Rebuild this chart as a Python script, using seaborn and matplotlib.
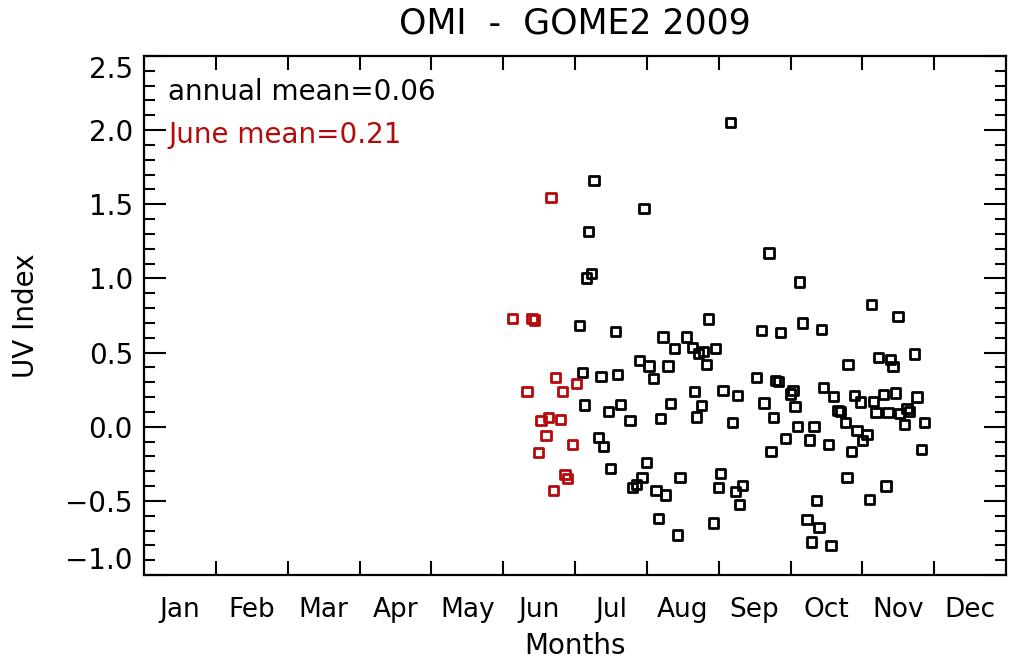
import numpy as np
import pandas as pd
import matplotlib
matplotlib.use("Agg")
import matplotlib.pyplot as plt
import seaborn as sns

# ---- data (x in fractional months from Jan 1, y = UV index difference) ----
months = ["Jan", "Feb", "Mar", "Apr", "May", "Jun", "Jul", "Aug", "Sep", "Oct", "Nov", "Dec"]

june_x = [5.665, 5.132, 5.401, 5.433, 5.725, 6.020, 5.331, 5.829, 5.526, 5.633,
          5.795, 5.596, 5.968, 5.494, 5.861, 5.898, 5.697]
june_y = [1.545, 0.73, 0.73, 0.72, 0.33, 0.29, 0.235, 0.235, 0.044, 0.062,
          0.05, -0.06, -0.118, -0.174, -0.32, -0.35, -0.43]

other_x = [6.265, 6.962, 6.191, 6.233, 6.163, 6.060, 6.562, 7.226, 7.557, 7.390,
           6.896, 7.031, 7.296, 6.102, 6.362, 6.595, 7.097, 6.130, 6.464, 6.631,
           6.767, 7.334, 7.194, 6.330, 6.400, 6.498, 6.994, 6.934, 6.860, 6.799,
           7.129, 7.264, 7.463, 7.167, 7.431, 8.164, 8.700, 9.126, 7.863, 8.592,
           8.857, 9.164, 9.429, 7.640, 7.718, 7.794, 7.961, 7.826, 9.801, 8.532,
           8.787, 8.829, 9.034, 8.997, 9.062, 9.461, 9.596, 9.661, 9.697, 9.763,
           7.663, 8.059, 8.258, 7.766, 7.696, 8.198, 8.630, 8.764, 9.094, 9.327,
           8.931, 9.261, 9.526, 8.728, 9.847, 8.031, 7.997, 8.234, 8.332, 8.295,
           7.928, 9.359, 9.229, 9.397, 9.293, 9.564, 9.787, 10.130, 10.498, 10.223,
           10.394, 10.428, 10.729, 9.893, 9.972, 10.157, 10.297, 10.464, 10.762, 10.191,
           10.358, 10.520, 10.623, 10.659, 10.590, 10.860, 9.926, 10.066, 10.000, 10.826,
           10.330, 10.102]
other_y = [1.66, 1.47, 1.318, 1.033, 1.003, 0.68, 0.64, 0.605, 0.605, 0.527,
           0.448, 0.41, 0.41, 0.367, 0.336, 0.354, 0.325, 0.147, 0.10, 0.15,
           0.044, 0.156, 0.053, -0.075, -0.136, -0.28, -0.24, -0.34, -0.39, -0.41,
           -0.43, -0.46, -0.34, -0.62, -0.73, 2.053, 1.172, 0.976, 0.727, 0.651,
           0.635, 0.70, 0.657, 0.534, 0.493, 0.506, 0.527, 0.42, 0.42, 0.334,
           0.31, 0.305, 0.244, 0.22, 0.136, 0.266, 0.204, 0.111, 0.10, 0.028,
           0.24, 0.244, 0.208, 0.145, 0.066, 0.028, 0.16, 0.06, 0.003, 0.001,
           -0.082, -0.09, -0.12, -0.167, -0.165, -0.316, -0.408, -0.435, -0.395, -0.523,
           -0.649, -0.496, -0.624, -0.682, -0.777, -0.80, -0.34, 0.826, 0.745, 0.467,
           0.455, 0.408, 0.49, 0.21, 0.167, 0.172, 0.219, 0.228, 0.20, 0.098,
           0.096, 0.089, 0.123, 0.10, 0.015, 0.026, -0.028, -0.055, -0.091, -0.154,
           -0.40, -0.49]

annual_text = "annual mean=0.06"
june_text = "June mean=0.21"
title_text = "OMI  -  GOME2 2009"

RED = "#B40A0A"

sns.set_style("ticks")
plt.rcParams["font.family"] = ["DejaVu Sans"]
for k in ("text.color", "axes.labelcolor", "xtick.color", "ytick.color", "axes.edgecolor"):
    plt.rcParams[k] = "black"

fig = plt.figure(figsize=(10.13, 6.59), dpi=100)
ax = fig.add_axes([144 / 1013, 1 - 575 / 659, 862 / 1013, 519 / 659])

df_other = pd.DataFrame({"x": other_x, "y": other_y})
df_june = pd.DataFrame({"x": june_x, "y": june_y})

sns.scatterplot(data=df_other, x="x", y="y", ax=ax, marker="s", s=44,
                facecolor="none", edgecolor="black", linewidth=2.0, zorder=3)
sns.scatterplot(data=df_june, x="x", y="y", ax=ax, marker="s", s=44,
                facecolor="none", edgecolor=RED, linewidth=2.0, zorder=3)

ax.set_xlim(0, 12)
ax.set_ylim(-1.0, 2.5)

# x: ticks at month boundaries, labels at month centres
ax.set_xticks(np.arange(1, 12))
ax.set_xticklabels([])
ax.set_xticks(np.arange(12) + 0.5, minor=True)
ax.set_xticklabels(months, minor=True)
ax.tick_params(axis="x", which="major", direction="in", length=10, width=1.5,
               top=True, bottom=True)
ax.tick_params(axis="x", which="minor", length=0, pad=16, labelsize=19)

# y: majors every 0.5, minors every 0.1
yt = np.arange(-1.0, 2.51, 0.5)
ax.set_yticks(yt)
ax.set_yticklabels([f"{v:.1f}".replace("-", "\u2212") for v in yt])
ax.set_yticks(np.arange(-1.0, 2.501, 0.1), minor=True)
ax.tick_params(axis="y", which="major", direction="in", length=16, width=1.5,
               left=True, right=True, labelsize=20, pad=8)
ax.tick_params(axis="y", which="minor", direction="in", length=8, width=1.5,
               left=True, right=True)
labels = ax.get_yticklabels()
labels[0].set_va("bottom")
labels[-1].set_va("top")

for sp in ax.spines.values():
    sp.set_visible(True)
    sp.set_linewidth(1.6)
    sp.set_color("black")

ax.set_xlabel("Months", fontsize=20, labelpad=6)
ax.set_ylabel("UV Index", fontsize=20, labelpad=18)
ax.set_title(title_text, fontsize=25, pad=16)

ax.text(0.028, 0.931, annual_text, transform=ax.transAxes, fontsize=20,
        color="black", va="center", ha="left")
ax.text(0.028, 0.848, june_text, transform=ax.transAxes, fontsize=20,
        color=RED, va="center", ha="left")

fig.savefig("out.png", dpi=100)
